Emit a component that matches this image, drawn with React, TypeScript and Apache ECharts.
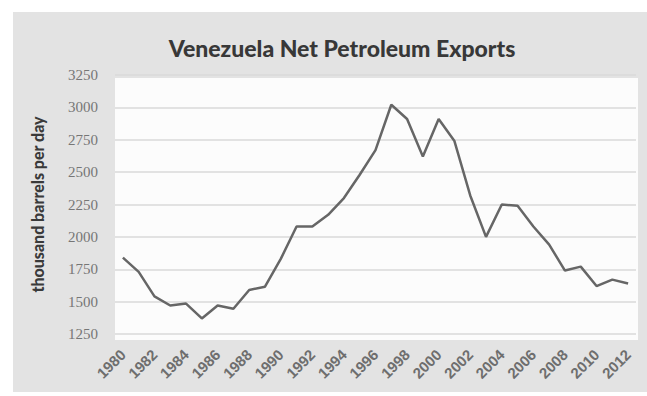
import React, { useEffect, useRef } from "react";
import * as echarts from "echarts";

const years: string[] = [
  "1980", "1981", "1982", "1983", "1984", "1985", "1986", "1987", "1988", "1989",
  "1990", "1991", "1992", "1993", "1994", "1995", "1996", "1997", "1998", "1999",
  "2000", "2001", "2002", "2003", "2004", "2005", "2006", "2007", "2008", "2009",
  "2010", "2011", "2012",
];
const exportsKbd: number[] = [
  1840, 1730, 1540, 1470, 1485, 1370, 1470, 1445, 1590, 1615,
  1830, 2080, 2080, 2170, 2300, 2480, 2670, 3020, 2910, 2620,
  2910, 2740, 2320, 2000, 2250, 2240, 2080, 1940, 1740, 1770,
  1620, 1670, 1640,
];
const titleText = "Venezuela Net Petroleum Exports";
const yAxisName = "thousand barrels per day";
const yMin = 1250;
const yMax = 3250;
const yStep = 250;

export default function App() {
  const ref = useRef<HTMLDivElement>(null);
  useEffect(() => {
    if (!ref.current) return;
    const chart = echarts.init(ref.current, undefined, { renderer: "svg" });
    chart.setOption({
      animation: false,
      backgroundColor: "#ffffff",
      graphic: [
        { type: "rect", z: -10, shape: { x: 13, y: 12, width: 634, height: 380 }, style: { fill: "#e3e3e3" } },
        { type: "rect", z: -9, shape: { x: 115, y: 78, width: 523, height: 262 }, style: { fill: "#fcfcfc" } },
      ],
      title: {
        text: titleText,
        left: 337,
        textAlign: "center",
        top: 31,
        textStyle: { fontFamily: "Lato", fontWeight: 900, fontSize: 23, color: "#383838" },
      },
      grid: { left: 115, right: 11, top: 75, bottom: 62 },
      xAxis: {
        type: "category",
        data: years,
        boundaryGap: true,
        axisLine: { show: false },
        axisTick: { show: false },
        axisLabel: {
          interval: 1,
          rotate: 45,
          margin: 18,
          fontFamily: "Liberation Sans",
          fontSize: 15,
          fontWeight: "bold",
          color: "#6e6e6e",
        },
      },
      yAxis: {
        type: "value",
        min: yMin,
        max: yMax,
        interval: yStep,
        name: yAxisName,
        nameLocation: "middle",
        nameGap: 70,
        nameTextStyle: { fontFamily: "Lato", fontWeight: 900, fontSize: 16, color: "#3a3a3a" },
        axisLine: { show: false },
        axisTick: { show: false },
        splitLine: { lineStyle: { color: "#dadada", width: 1.5 } },
        axisLabel: {
          margin: 17,
          fontFamily: "Liberation Serif",
          fontSize: 15,
          color: "#767676",
          formatter: (v: number) => String(v),
        },
      },
      series: [
        {
          type: "line",
          data: exportsKbd,
          symbol: "none",
          lineStyle: { color: "#666666", width: 2.5 },
        },
      ],
    });
    return () => chart.dispose();
  }, []);
  return (
    <div
      ref={ref}
      style={{ position: "fixed", left: 0, top: 0, width: 647, height: 396 }}
    />
  );
}
